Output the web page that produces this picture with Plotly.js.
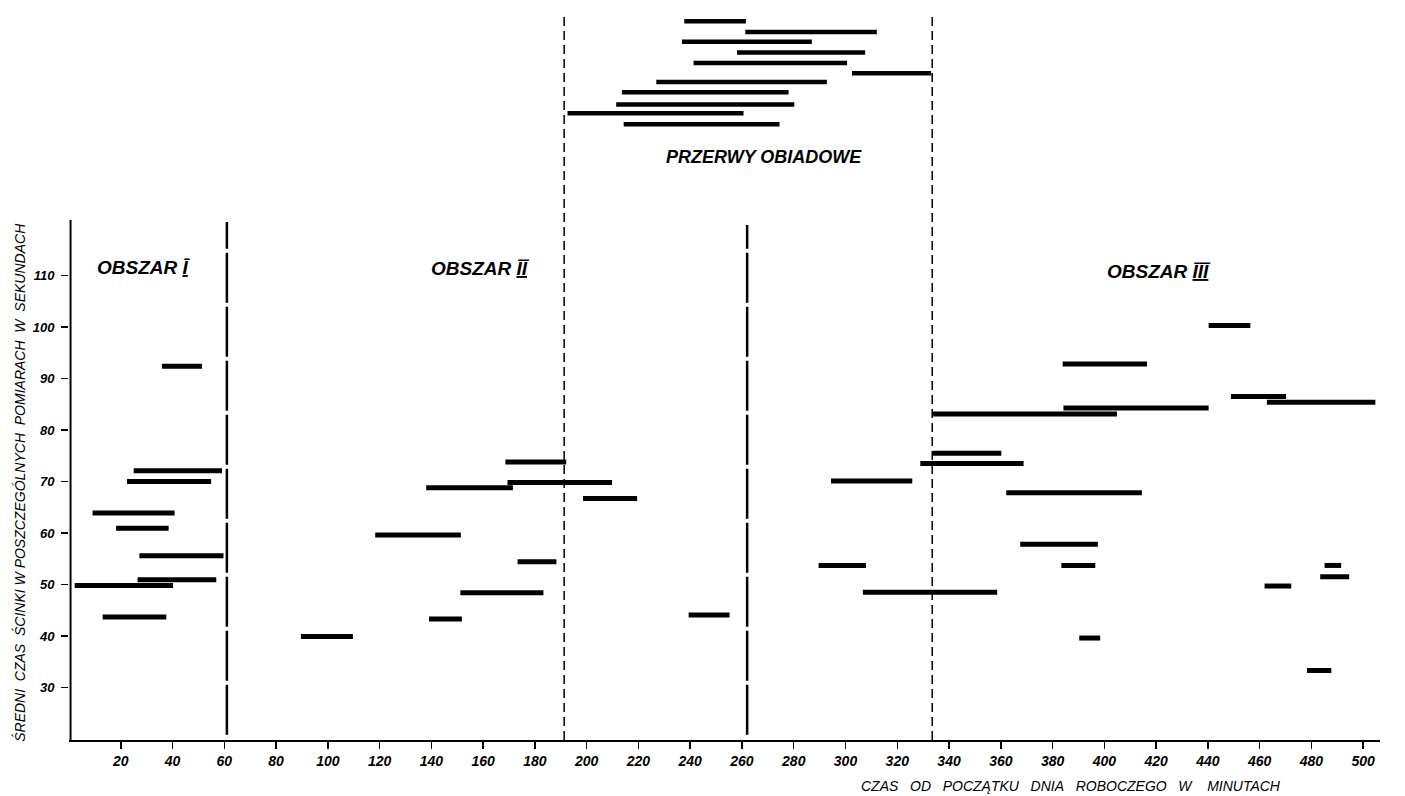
<!DOCTYPE html>
<html>
<head>
<meta charset="utf-8">
<script src="https://cdn.plot.ly/plotly-3.0.1.min.js"></script>
<style>html,body{margin:0;padding:0;background:#fff;}#chart{width:1405px;height:796px;}</style>
</head>
<body>
<div id="chart"></div>
<script>
// Work measurements: start minute, end minute, mean felling time (s)
const workStart = [35.9, 25.0, 22.4, 9.1, 18.2, 27.2, 26.5, 2.2, 13.0,
  168.6, 138.0, 169.4, 198.6, 118.3, 173.3, 151.2, 139.1, 89.6,
  239.4, 294.4, 289.6, 306.7,
  440.3, 383.9, 448.9, 462.8, 333.4, 384.2, 333.8, 328.9, 362.1, 367.5, 383.4, 390.3, 461.9, 485.1, 483.4, 478.3];
const workEnd = [51.4, 59.1, 54.9, 40.8, 38.5, 59.7, 56.9, 40.2, 37.6,
  192.1, 171.5, 209.8, 219.5, 151.4, 188.3, 183.3, 151.8, 109.7,
  255.2, 325.8, 307.9, 358.6,
  456.4, 416.5, 470.2, 504.7, 404.9, 440.3, 360.2, 368.8, 414.5, 397.5, 396.5, 398.4, 472.2, 491.5, 494.6, 487.7];
const workValue = [92.4, 72.1, 70.0, 63.9, 60.9, 55.6, 50.9, 49.8, 43.7,
  73.8, 68.8, 69.8, 66.7, 59.6, 54.4, 48.4, 43.3, 39.9,
  44.1, 70.1, 53.7, 48.5,
  100.3, 92.8, 86.5, 85.4, 83.1, 84.3, 75.5, 73.5, 67.8, 57.8, 53.7, 39.6, 49.7, 53.7, 51.5, 33.3];

// Lunch breaks (drawn stacked above the plot)
const lunchStart = [237.7, 261.3, 236.8, 258.1, 241.3, 302.5, 226.9, 213.6, 211.4, 192.6, 214.3];
const lunchEnd   = [261.5, 312.1, 287.0, 307.6, 300.6, 333.1, 292.8, 278.0, 280.2, 260.6, 274.5];
const lunchLevel = [159.4, 157.3, 155.4, 153.3, 151.3, 149.3, 147.6, 145.6, 143.2, 141.5, 139.4];

const xTicks = [20,40,60,80,100,120,140,160,180,200,220,240,260,280,300,320,340,360,380,400,420,440,460,480,500];
const yTicks = [30,40,50,60,70,80,90,100,110];

// Region boundaries (minutes)
const boundaries = [61, 191.3, 262, 333.5];
const boundaryTop = [120.4, 160.6, 119.8, 160.6];
const boundaryBottom = [20.8, 19.8, 20.8, 19.8];
const boundaryDash = ['50px,4px', '9px,5px', '50px,4px', '9px,5px'];

const regionLabels = ['OBSZAR <u>Ī</u>', 'OBSZAR <u>ĪĪ</u>', 'PRZERWY OBIADOWE', 'OBSZAR <u>ĪĪĪ</u>'];
const regionLabelX = [29, 159, 268.5, 421];
const regionLabelY = [111.6, 111.3, 133.0, 110.8];
const regionLabelSize = [19, 19, 18, 19];

function segs(s, e, v) {
  const x = [], y = [];
  for (let i = 0; i < s.length; i++) { x.push(s[i], e[i], null); y.push(v[i], v[i], null); }
  return {x, y};
}
const w = segs(workStart, workEnd, workValue);
const l = segs(lunchStart, lunchEnd, lunchLevel);

const traces = [
  {type:'scatter', mode:'lines', x:w.x, y:w.y, line:{color:'#000', width:5}, hoverinfo:'skip', showlegend:false},
  {type:'scatter', mode:'lines', x:l.x, y:l.y, line:{color:'#000', width:4.5}, hoverinfo:'skip', showlegend:false}
];

const fontFam = '"Liberation Sans Narrow", "Liberation Sans", "DejaVu Sans Condensed", sans-serif';

const shapes = boundaries.map((b, i) => ({
  type:'line', xref:'x', yref:'y', x0:b, x1:b, y0:boundaryBottom[i], y1:boundaryTop[i],
  line:{color:'#000', width: (i % 2 === 0) ? 2.5 : 1.5, dash: boundaryDash[i]}
}));
shapes.push({type:'line', xref:'x', yref:'y', x0:0.6, x1:0.6, y0:19.8, y1:120.8, line:{color:'#000', width:2}});

const annotations = regionLabels.map((t, i) => ({
  text:t, x:regionLabelX[i], y:regionLabelY[i], xref:'x', yref:'y', showarrow:false,
  font:{family:fontFam, size:regionLabelSize[i], color:'#000', weight:'bold', style:'italic'}
}));
annotations.push({
  text:'ŚREDNI  CZAS  ŚCINKI W POSZCZEGÓLNYCH  POMIARACH  W  SEKUNDACH',
  xref:'paper', yref:'paper', x:-0.046, y:0.355, textangle:-90, showarrow:false,
  font:{family:fontFam, size:14, color:'#000', style:'italic'}
});
annotations.push({
  text:'CZAS\u00a0\u00a0 OD\u00a0\u00a0 POCZĄTKU\u00a0\u00a0 DNIA\u00a0\u00a0 ROBOCZEGO\u00a0\u00a0 W\u00a0\u00a0\u00a0 MINUTACH',
  xref:'x', yref:'paper', x:387, y:-0.0634, yanchor:'middle', showarrow:false,
  font:{family:fontFam, size:14, color:'#000', style:'italic'}
});

const layout = {
  width:1405, height:796,
  margin:{l:69, r:25, t:15, b:56},
  paper_bgcolor:'#fff', plot_bgcolor:'#fff',
  showlegend:false,
  xaxis:{
    range:[0, 506.5], tickvals:xTicks, ticktext:xTicks.map(String),
    showgrid:false, zeroline:false, showline:true, linecolor:'#000', linewidth:2,
    ticks:'outside', ticklen:7, tickwidth:1.5, tickcolor:'#000',
    tickfont:{family:fontFam, size:14, color:'#000', weight:'bold', style:'italic'}
  },
  yaxis:{
    range:[19.8, 160.6], tickvals:yTicks, ticktext:yTicks.map(String),
    showgrid:false, zeroline:false, showline:false,
    ticks:'outside', ticklen:7, tickwidth:1.5, tickcolor:'#000', ticklabelstandoff:4,
    tickfont:{family:fontFam, size:13, color:'#000', weight:'bold', style:'italic'}
  },
  shapes:shapes,
  annotations:annotations
};

Plotly.newPlot('chart', traces, layout, {displayModeBar:false, staticPlot:true});
</script>
</body>
</html>
